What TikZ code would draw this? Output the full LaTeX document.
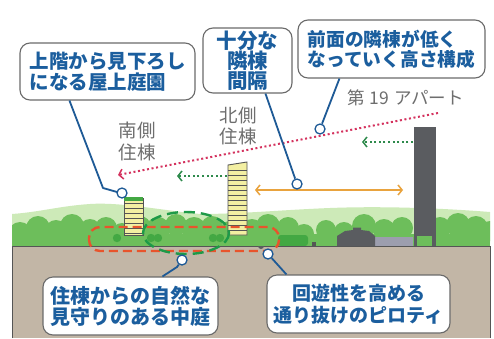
\documentclass[tikz,border=0pt]{standalone}
\usepackage{fontspec}
\newfontfamily\jp{Noto Sans CJK JP}
\usetikzlibrary{arrows.meta}

\definecolor{txtblue}{HTML}{1B5E9E}
\definecolor{lineblue}{HTML}{1E5A96}
\definecolor{boxgray}{HTML}{6A6A6A}
\definecolor{labelgray}{HTML}{6E6E6E}
\definecolor{hillpale}{HTML}{CDEAB8}
\definecolor{treegreen}{HTML}{6DBE5B}
\definecolor{treedark}{HTML}{43A843}
\definecolor{groundtan}{HTML}{C2B6A6}
\definecolor{bldyellow}{HTML}{F3EFA2}
\definecolor{bldline}{HTML}{555555}
\definecolor{towergray}{HTML}{5A5C60}
\definecolor{blockgray}{HTML}{9C9EAE}
\definecolor{dashred}{HTML}{E8542C}
\definecolor{dashgreen}{HTML}{1E9A48}
\definecolor{dotpink}{HTML}{D4325E}
\definecolor{dotgreen}{HTML}{2E8A4C}
\definecolor{arroworange}{HTML}{E9A33E}

\tikzset{
  callout/.style={draw=boxgray, line width=1.1pt, fill=white, rounded corners=10pt,
    inner sep=0pt, text=txtblue, font=\jp\bfseries},
  graylabel/.style={text=labelgray, inner sep=0pt, align=center},
  pin/.style={circle, draw=lineblue, fill=white, line width=1.3pt, minimum size=10pt, inner sep=0pt},
  leader/.style={draw=lineblue, line width=1.8pt, line join=round},
  dotarrow/.style={line width=2pt, dash pattern=on 2pt off 2.6pt,
    -{Straight Barb[length=4pt,width=10pt,line width=1.5pt]}},
  stripes/.style={draw=bldline, line width=0.9pt},
}

\begin{document}
\begin{tikzpicture}[x=1pt,y=-1pt]
\useasboundingbox (0,0) rectangle (494,338);
\fill[white] (0,0) rectangle (494,338);

% pale hills behind the trees
\fill[hillpale] (12,246) -- (12,214)
  .. controls (40,212) and (60,206) .. (90,204)
  .. controls (120,202) and (160,210) .. (200,214)
  .. controls (240,214) and (280,210) .. (330,208)
  .. controls (380,206) and (440,208) .. (490,212)
  -- (490,246) -- cycle;

% tree canopy
\begin{scope}
\clip (12,180) rectangle (490,246);
\foreach \x/\y/\r in {20/234/12,38/228/12,56/231/11,72/226/12,90/230/11,106/228/11,
  122/233/10,140/227/11,158/229/12,176/225/11,194/229/12,212/227/11,230/231/10,
  252/230/11,268/226/12,288/228/11,304/234/10,326/230/10,344/232/10,364/226/12,
  384/230/11,402/228/11,440/228/11,458/225/12,476/228/12,490/231/10}
  \fill[treegreen] (\x,\y) circle (\r);
\fill[treegreen] (12,234) rectangle (490,246);
\end{scope}
\foreach \x in {117,151,158,213,220}
  \fill[treedark] (\x,238) circle (4.2);
\fill[treedark, rounded corners=3pt] (278,235) rectangle (308,246);

% ground
\fill[groundtan] (12,246) rectangle (490,338);
\draw[bldline, line width=0.9pt] (12,338) -- (12,246) -- (490,246) -- (490,338);

% south building with roof garden
\fill[bldyellow] (124,198) rectangle (143,235);
\foreach \y in {203,208,...,233} \draw[stripes] (124,\y) -- (143,\y);
\draw[stripes] (124,198) rectangle (143,235);
\fill[treedark] (124,197) rectangle (143,200.5);

% north building
\fill[bldyellow] (228,165) -- (247,162) -- (247,235) -- (228,235) -- cycle;
\foreach \y in {170,175,...,230} \draw[stripes] (228,\y) -- (247,\y);
\draw[stripes] (228,165) -- (247,162) -- (247,235) -- (228,235) -- cycle;

% apartment block No.19 on pilotis
\fill[towergray] (414,127) rectangle (436,236);
\fill[towergray] (414,236) rectangle (417,246);
\fill[towergray] (432,236) rectangle (436,246);
\fill[blockgray] (375,237) rectangle (413,246);
\fill[towergray] (337,246) -- (337,236) -- (345,231) -- (353,230) -- (353,227.5)
  -- (361,227.5) -- (361,230) -- (369,231) -- (375,236) -- (375,246) -- cycle;
\fill[towergray] (258,246) arc[start angle=180, end angle=0, radius=3];
\fill[bldline] (312,242) rectangle (316,246);

% courtyard and pilotis outlines
\draw[dashred, line width=2.4pt, dash pattern=on 9pt off 5pt, rounded corners=11pt]
  (89,227) rectangle (279,251);
\draw[dashgreen, line width=2.4pt, dash pattern=on 11pt off 6pt]
  (186,233) ellipse [x radius=43, y radius=21];

% sight lines and spacing
\coordinate (pinkS) at (438,113);
\coordinate (pinkE) at (118,175);
\draw[dotpink, dotarrow] (pinkS) -- (pinkE);
\coordinate (g1S) at (413,142);
\coordinate (g1E) at (362,142);
\draw[dotgreen, dotarrow] (g1S) -- (g1E);
\coordinate (g2S) at (227,176);
\coordinate (g2E) at (177,176);
\draw[dotgreen, dotarrow] (g2S) -- (g2E);
\coordinate (oL) at (255,190);
\coordinate (oR) at (403,190);
\draw[arroworange, line width=1.6pt,
  {Straight Barb[length=4pt,width=10pt,line width=1.5pt]}-{Straight Barb[length=4pt,width=10pt,line width=1.5pt]}]
  (oL) -- (oR);

% plain labels
\node[graylabel, font=\jp\fontsize{18.5}{22}\selectfont] (south) at (137,141) {南側\\住棟};
\node[graylabel, font=\jp\fontsize{18.5}{21}\selectfont] (north) at (238,126) {北側\\住棟};
\node[graylabel, font=\jp\fontsize{17.5}{20}\selectfont, anchor=west] (apt) at (347,98)
  {第\hspace{5pt}19\hspace{5pt}アパート};

% callouts
\node[callout, minimum width=175pt, minimum height=57pt, align=left,
  font=\jp\bfseries\fontsize{19.5}{21}\selectfont] (b1) at (107.5,71.5)
  {上階から見下ろし\\になる屋上庭園};
\node[callout, minimum width=89pt, minimum height=65pt, align=center,
  font=\jp\bfseries\fontsize{20.5}{20}\selectfont] (b2) at (247.5,60.5)
  {十分な\\隣棟\\間隔};
\node[callout, minimum width=187pt, minimum height=58pt, align=left,
  font=\jp\bfseries\fontsize{18.7}{20}\selectfont] (b3) at (391.5,49)
  {前面の隣棟が低く\\なっていく高さ構成};
\node[callout, minimum width=175pt, minimum height=58pt, align=left,
  font=\jp\bfseries\fontsize{20}{21}\selectfont] (b4) at (130.5,306)
  {住棟からの自然な\\見守りのある中庭};
\node[callout, minimum width=183pt, minimum height=58pt, align=center,
  font=\jp\bfseries\fontsize{19}{22}\selectfont] (b5) at (358.5,304)
  {回遊性を高める\\通り抜けのピロティ};

% leader lines with end pins
\coordinate (k1a) at (103,188);
\coordinate (k1b) at (117,192);
\coordinate (k4a) at (177,267);
\node[pin] (c1) at (122,193) {};
\node[pin] (c2) at (297,184) {};
\node[pin] (c3) at (320,129) {};
\node[pin] (c4) at (182,260) {};
\node[pin] (c5) at (268,254) {};
\draw[leader] ([xshift=50pt]b1.south west) -- (k1a) -- (k1b) -- (c1);
\draw[leader] ([xshift=63pt]b2.south west) -- (c2);
\draw[leader] ([xshift=42pt]b3.south west) -- (c3);
\draw[leader] ([xshift=120pt]b4.north west) -- (k4a) -- (c4);
\draw[leader] ([xshift=20pt]b5.north west) -- (c5);
\end{tikzpicture}
\end{document}
